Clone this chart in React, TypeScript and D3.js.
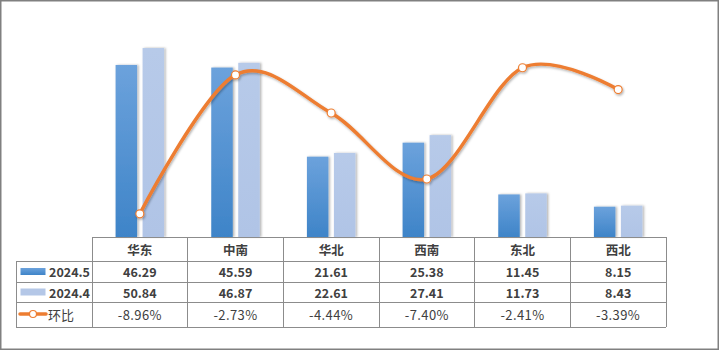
import * as d3 from "d3";

const regions = ["华东", "中南", "华北", "西南", "东北", "西北"];
const may = [46.29, 45.59, 21.61, 25.38, 11.45, 8.15];
const apr = [50.84, 46.87, 22.61, 27.41, 11.73, 8.43];
const mom = [-8.96, -2.73, -4.44, -7.4, -2.41, -3.39];
const momLabels = ["-8.96%", "-2.73%", "-4.44%", "-7.40%", "-2.41%", "-3.39%"];
const seriesNames = ["2024.5", "2024.4", "环比"];

const W = 720;
const H = 351;
const plotTop = 14;
const plotBottom = 237;
const tableLeft = 16;
const colLeft = 92;
const colRight = 666;
const rowLines = [237, 261, 282, 302, 327];

const font = "'Noto Sans CJK SC', 'Microsoft YaHei', sans-serif";
const textColor = "#404040";
const orange = "#ed7d31";

export default function App() {
  const x = d3.scaleBand<string>().domain(regions).range([colLeft, colRight]);
  const y = d3.scaleLinear().domain([0, 60]).range([plotBottom, plotTop]);
  const y2 = d3.scaleLinear().domain([-10, 0]).range([plotBottom, plotTop]);
  const barW = 21.5;
  const off = 13.5;

  const cx = (i: number) => (x(regions[i]) ?? 0) + x.bandwidth() / 2;

  // Excel-style smoothed line
  const line = d3
    .line<number>()
    .x((_, i) => cx(i))
    .y((d) => y2(d))
    .curve(d3.curveCatmullRom.alpha(0));

  return (
    <div style={{ position: "absolute", left: 0, top: 0 }}>
      <svg width={W} height={H} viewBox={`0 0 ${W} ${H}`} style={{ display: "block" }}>
        <defs>
          <linearGradient id="gDark" x1="0" y1="0" x2="0" y2="1">
            <stop offset="0%" stopColor="#6ca2dc" />
            <stop offset="100%" stopColor="#3e84c8" />
          </linearGradient>
          <linearGradient id="gLight" x1="0" y1="0" x2="0" y2="1">
            <stop offset="0%" stopColor="#b7cae9" />
            <stop offset="100%" stopColor="#b0c4e6" />
          </linearGradient>
          <filter id="shadow" x="-30%" y="-10%" width="160%" height="120%">
            <feDropShadow dx="1.5" dy="0" stdDeviation="1" floodColor="#000" floodOpacity="0.3" />
          </filter>
          <filter id="lineShadow" x="-10%" y="-10%" width="120%" height="130%">
            <feDropShadow dx="1" dy="1.5" stdDeviation="1.2" floodColor="#000" floodOpacity="0.3" />
          </filter>
        </defs>
        <rect x={0.75} y={0.75} width={717.5} height={348.5} fill="#fff" stroke="#808080" strokeWidth={1.5} />

        {/* bars */}
        {regions.map((r, i) => (
          <g key={r} filter="url(#shadow)">
            <rect
              x={cx(i) - off - barW / 2}
              y={y(may[i])}
              width={barW}
              height={plotBottom - y(may[i])}
              fill="url(#gDark)"
            />
            <rect
              x={cx(i) + off - barW / 2}
              y={y(apr[i])}
              width={barW}
              height={plotBottom - y(apr[i])}
              fill="url(#gLight)"
            />
          </g>
        ))}

        {/* line */}
        <g filter="url(#lineShadow)">
          <path d={line(mom) ?? ""} fill="none" stroke={orange} strokeWidth={3.5} strokeLinecap="round" />
          {mom.map((v, i) => (
            <circle key={i} cx={cx(i)} cy={y2(v)} r={4} fill="#fff" stroke={orange} strokeWidth={1.2} />
          ))}
        </g>

        {/* table grid */}
        <g stroke="#8c8c8c" strokeWidth={1} shapeRendering="crispEdges">
          <line x1={colLeft} x2={colRight} y1={rowLines[0]} y2={rowLines[0]} />
          {rowLines.slice(1).map((ly) => (
            <line key={ly} x1={tableLeft} x2={colRight} y1={ly} y2={ly} />
          ))}
          <line x1={tableLeft} x2={tableLeft} y1={rowLines[1]} y2={rowLines[4]} />
          {regions.map((r) => (
            <line key={r} x1={x(r)} x2={x(r)} y1={rowLines[0]} y2={rowLines[4]} />
          ))}
          <line x1={colRight} x2={colRight} y1={rowLines[0]} y2={rowLines[4]} />
        </g>

        {/* table cells */}
        <g fontFamily={font} fontSize={12.5} fill={textColor} textAnchor="middle" dominantBaseline="central">
          {regions.map((r, i) => (
            <text key={r} x={cx(i)} y={(rowLines[0] + rowLines[1]) / 2} fontWeight="bold">
              {r}
            </text>
          ))}
          {may.map((v, i) => (
            <text key={"m" + i} x={cx(i)} y={(rowLines[1] + rowLines[2]) / 2} fontWeight="bold">
              {v.toFixed(2)}
            </text>
          ))}
          {apr.map((v, i) => (
            <text key={"a" + i} x={cx(i)} y={(rowLines[2] + rowLines[3]) / 2} fontWeight="bold">
              {v.toFixed(2)}
            </text>
          ))}
          {momLabels.map((v, i) => (
            <text key={"p" + i} x={cx(i)} y={(rowLines[3] + rowLines[4]) / 2} fontSize={13} letterSpacing={0.4}>
              {v}
            </text>
          ))}
        </g>

        {/* legend keys */}
        <rect x={20.5} y={268} width={25} height={7} fill="url(#gDark)" />
        <rect x={20.5} y={288.5} width={25} height={7} fill="#b4c7e7" />
        <line x1={20} x2={46} y1={314} y2={314} stroke={orange} strokeWidth={3.5} strokeLinecap="round" />
        <circle cx={33} cy={314} r={3.5} fill="#fff" stroke={orange} strokeWidth={1.2} />
        <g fontFamily={font} fontSize={12.5} fill={textColor} dominantBaseline="central">
          <text x={49} y={(rowLines[1] + rowLines[2]) / 2} fontWeight="bold">
            {seriesNames[0]}
          </text>
          <text x={49} y={(rowLines[2] + rowLines[3]) / 2} fontWeight="bold">
            {seriesNames[1]}
          </text>
          <text x={48} y={(rowLines[3] + rowLines[4]) / 2} fontSize={13}>
            {seriesNames[2]}
          </text>
        </g>
      </svg>
    </div>
  );
}
